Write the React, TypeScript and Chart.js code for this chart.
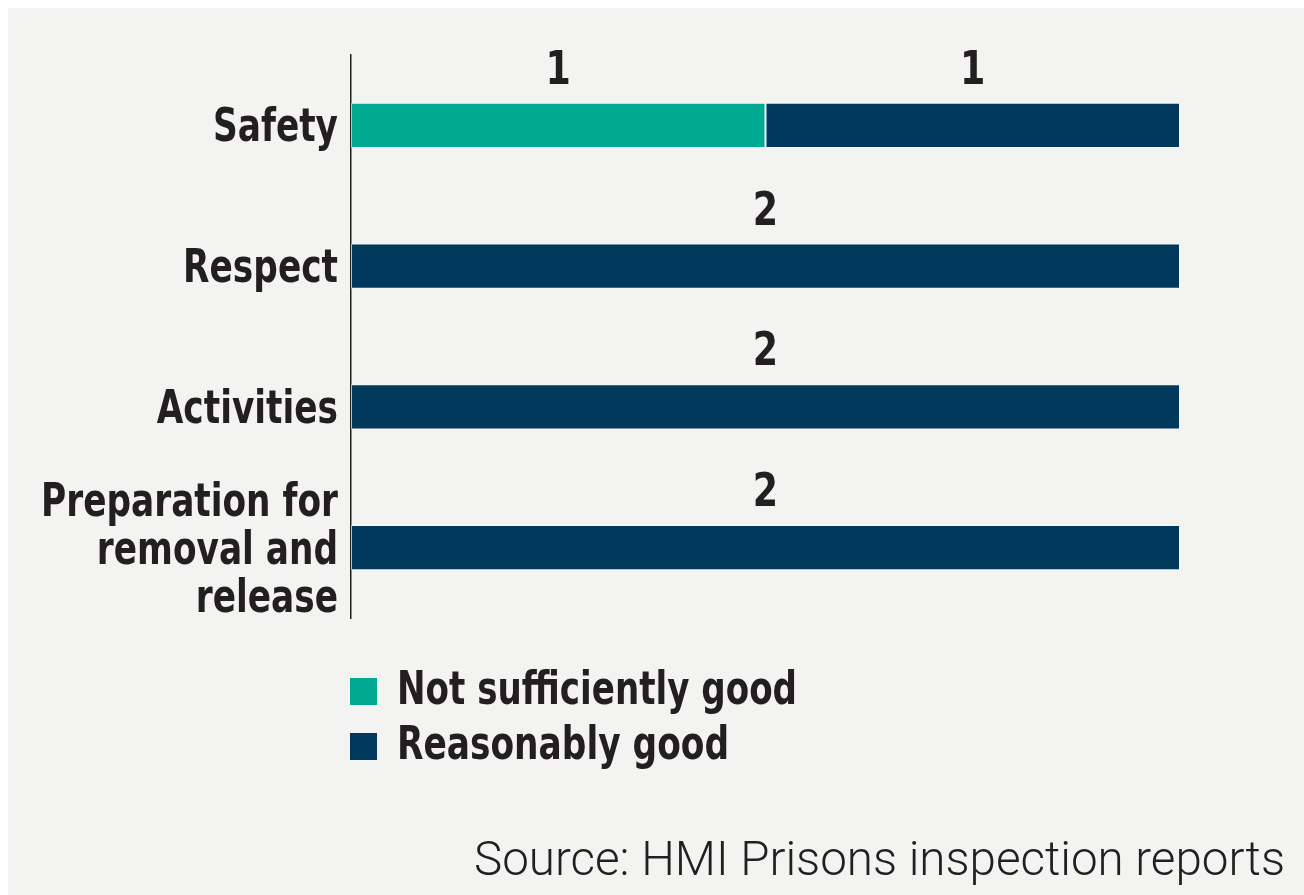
import React, { useEffect, useRef } from "react";
import { Chart, registerables } from "chart.js";

Chart.register(...registerables);

const categories: (string | string[])[] = [
  "Safety",
  "Respect",
  "Activities",
  ["Preparation for", "removal and", "release"],
];
const seriesNames = ["Not sufficiently good", "Reasonably good"];
const notSufficientlyGood = [1, 0, 0, 0];
const reasonablyGood = [1, 2, 2, 2];
const seriesColors = ["#00a991", "#00395c"];
const sourceText = "Source: HMI Prisons inspection reports";

const TEXT = "#231f20";
const BOLD_FAMILY = "'Liberation Sans Narrow', 'DejaVu Sans Condensed', 'Roboto Condensed', sans-serif";
const LIGHT_FAMILY = "Roboto, 'Open Sans', Lato, sans-serif";
const CONDENSE = 0.83;

const W = 1296;
const H = 887;

function drawScaled(
  ctx: CanvasRenderingContext2D,
  text: string,
  x: number,
  y: number,
  scale: number,
  align: "left" | "right" | "center"
) {
  const w = ctx.measureText(text).width * scale;
  const startX = align === "left" ? x : align === "right" ? x - w : x - w / 2;
  ctx.save();
  ctx.textAlign = "left";
  ctx.translate(startX, y);
  ctx.scale(scale, 1);
  ctx.fillText(text, 0, 0);
  ctx.restore();
}

function drawFitted(
  ctx: CanvasRenderingContext2D,
  text: string,
  x: number,
  y: number,
  targetWidth: number,
  align: "left" | "right"
) {
  const m = ctx.measureText(text).width;
  drawScaled(ctx, text, x, y, targetWidth / m, align);
}

const categoryLabelPlugin = {
  id: "categoryLabels",
  afterDraw(chart: any) {
    const ctx: CanvasRenderingContext2D = chart.ctx;
    const yScale = chart.scales.y;
    const right = chart.chartArea.left - 13;
    ctx.save();
    ctx.fillStyle = TEXT;
    ctx.font = `bold 46px ${BOLD_FAMILY}`;
    ctx.textBaseline = "alphabetic";
    (chart.data.labels as any[]).forEach((lab: any, i: number) => {
      const lines: string[] = Array.isArray(lab) ? lab : [lab];
      const cy = yScale.getPixelForTick(i);
      const lh = 48;
      const first = cy + 16 - ((lines.length - 1) * lh) / 2;
      lines.forEach((ln, j) => {
        drawScaled(ctx, ln, right, first + j * lh, CONDENSE, "right");
      });
    });
    ctx.restore();
  },
};

const valueLabelPlugin = {
  id: "valueLabels",
  afterDatasetsDraw(chart: any) {
    const ctx: CanvasRenderingContext2D = chart.ctx;
    ctx.save();
    ctx.fillStyle = TEXT;
    ctx.font = `bold 46px ${BOLD_FAMILY}`;
    ctx.textBaseline = "alphabetic";
    chart.data.datasets.forEach((ds: any, di: number) => {
      const meta = chart.getDatasetMeta(di);
      meta.data.forEach((el: any, i: number) => {
        const v = ds.data[i];
        if (!v) return;
        const p = el.getProps(["x", "y", "base", "height"], true);
        const cx = (p.x + p.base) / 2;
        const top = p.y - p.height / 2;
        drawScaled(ctx, String(v), cx, top - 19, 0.88, "center");
      });
    });
    ctx.restore();
  },
};

const legendSourcePlugin = {
  id: "legendSource",
  afterDraw(chart: any) {
    const ctx: CanvasRenderingContext2D = chart.ctx;
    const area = chart.chartArea;
    ctx.save();
    const legendWidths = [400, 332];
    chart.data.datasets.forEach((ds: any, i: number) => {
      const boxX = area.left - 1;
      const boxY = 670 + i * 55;
      ctx.fillStyle = ds.backgroundColor;
      ctx.fillRect(boxX, boxY, 27, 27);
      ctx.fillStyle = TEXT;
      ctx.font = `bold 46px ${BOLD_FAMILY}`;
      ctx.textBaseline = "alphabetic";
      drawFitted(ctx, ds.label, boxX + 47, boxY + 26, legendWidths[i], "left");
    });
    ctx.fillStyle = TEXT;
    ctx.font = `300 48px ${LIGHT_FAMILY}`;
    ctx.textBaseline = "alphabetic";
    drawFitted(ctx, sourceText, 1277, 867, 811, "right");
    ctx.restore();
  },
};

export default function App() {
  const ref = useRef<HTMLCanvasElement | null>(null);
  useEffect(() => {
    if (!ref.current) return;
    const chart = new Chart(ref.current, {
      type: "bar",
      data: {
        labels: categories as any,
        datasets: [
          {
            label: seriesNames[0],
            data: notSufficientlyGood,
            backgroundColor: seriesColors[0],
            borderColor: "rgba(255,255,255,0.45)",
            borderWidth: 1,
            borderSkipped: false,
          },
          {
            label: seriesNames[1],
            data: reasonablyGood,
            backgroundColor: seriesColors[1],
            borderColor: "rgba(255,255,255,0.45)",
            borderWidth: 1,
            borderSkipped: false,
          },
        ],
      },
      options: {
        indexAxis: "y",
        animation: false,
        responsive: false,
        maintainAspectRatio: false,
        datasets: {
          bar: { categoryPercentage: 1, barPercentage: 0.32 },
        },
        layout: { padding: { left: 0, right: 124, top: 47, bottom: 277 } },
        plugins: {
          legend: { display: false },
          tooltip: { enabled: false },
        },
        scales: {
          x: {
            stacked: true,
            display: false,
            min: 0,
            max: 2,
          },
          y: {
            stacked: true,
            grid: { display: false, drawTicks: false },
            border: { display: true, color: TEXT, width: 1.5 },
            ticks: { display: false, autoSkip: false },
            afterFit: (s: any) => {
              s.width = 343;
            },
          },
        },
      },
      plugins: [valueLabelPlugin, categoryLabelPlugin, legendSourcePlugin],
    });
    return () => chart.destroy();
  }, []);
  return (
    <div style={{ position: "fixed", left: 8, top: 8, width: W, height: H }}>
      <canvas ref={ref} width={W} height={H} style={{ display: "block", background: "#f3f3f2" }} />
    </div>
  );
}
